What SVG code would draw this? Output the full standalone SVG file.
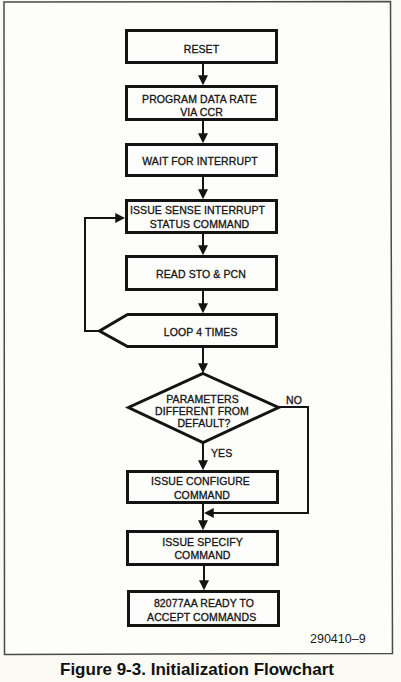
<svg xmlns="http://www.w3.org/2000/svg" width="401" height="682" viewBox="0 0 401 682">
<defs>
<style>
.box{fill:#fdfdfb;stroke:#141414;stroke-width:3;stroke-linejoin:miter}
.lbl{font-family:"Liberation Sans",Arial,sans-serif;font-size:10.5px;fill:#141414;stroke:#141414;stroke-width:0.3px;text-anchor:middle;letter-spacing:0.1px}
.lbs{font-family:"Liberation Sans",Arial,sans-serif;font-size:10.5px;fill:#141414;stroke:#141414;stroke-width:0.3px;letter-spacing:0.1px}
.con{fill:none;stroke:#141414;stroke-width:2}
</style>
<marker id="ah" markerUnits="userSpaceOnUse" markerWidth="10" markerHeight="10" viewBox="0 0 9 9" refX="7" refY="4.5" orient="auto">
<path d="M0,0 L9,4.5 L0,9 z" fill="#141414"/>
</marker>
</defs>
<rect x="0" y="0" width="401" height="682" fill="#fbfaf5"/>
<path d="M4,2 L390.5,1.5 L392.5,653.5 L4.5,654.5 z" fill="#fdfdfa" stroke="#4a4a4a" stroke-width="1.5"/>

<g id="connectors">
<path class="con" d="M203,64 V83" marker-end="url(#ah)"/>
<path class="con" d="M203,121 V141" marker-end="url(#ah)"/>
<path class="con" d="M203,177 V197" marker-end="url(#ah)"/>
<path class="con" d="M203,234 V253" marker-end="url(#ah)"/>
<path class="con" d="M203,291 V311" marker-end="url(#ah)"/>
<path class="con" d="M99,331 H85 V218 H123" marker-end="url(#ah)"/>
<path class="con" d="M203,348 V371" marker-end="url(#ah)"/>
<path class="con" d="M203,443 V468" marker-end="url(#ah)"/>
<path class="con" d="M278,407 H308 V513 H206" marker-end="url(#ah)"/>
<path class="con" d="M203,504 V528" marker-end="url(#ah)"/>
<path class="con" d="M204,566 V588" marker-end="url(#ah)"/>
</g>

<g id="reset">
<rect class="box" x="126.5" y="30.5" width="150" height="32"/>
<text class="lbl" x="201.5" y="52.5">RESET</text>
</g>
<g id="program">
<rect class="box" x="126.5" y="86.5" width="150" height="33"/>
<text class="lbl" x="199.5" y="102.5">PROGRAM DATA RATE</text>
<text class="lbl" x="201.5" y="115.7">VIA CCR</text>
</g>
<g id="wait">
<rect class="box" x="126.5" y="144.5" width="150" height="31"/>
<text class="lbl" x="200" y="165">WAIT FOR INTERRUPT</text>
</g>
<g id="sense">
<rect class="box" x="126.5" y="200.5" width="150" height="32"/>
<text class="lbl" x="197.5" y="214">ISSUE SENSE INTERRUPT</text>
<text class="lbl" x="199.5" y="227.5">STATUS COMMAND</text>
</g>
<g id="read">
<rect class="box" x="126.5" y="256.5" width="150" height="33"/>
<text class="lbl" x="201" y="277.7">READ STO &amp; PCN</text>
</g>
<g id="loop">
<path class="box" d="M127.5,314.5 H276.5 V346.5 H127.5 L99.5,331 z"/>
<text class="lbl" x="200.7" y="336">LOOP 4 TIMES</text>
</g>
<g id="decision">
<path class="box" d="M203,373.5 L278.5,407.5 L203,442.5 L128.5,407.5 z"/>
<text class="lbl" x="202.5" y="402.7">PARAMETERS</text>
<text class="lbl" x="202" y="415">DIFFERENT FROM</text>
<text class="lbl" x="204" y="427.3">DEFAULT?</text>
<text class="lbs" x="286" y="404">NO</text>
<text class="lbs" x="211" y="457">YES</text>
</g>
<g id="configure">
<rect class="box" x="127.5" y="471.5" width="150" height="31"/>
<text class="lbl" x="200.5" y="485">ISSUE CONFIGURE</text>
<text class="lbl" x="202" y="499">COMMAND</text>
</g>
<g id="specify">
<rect class="box" x="127.5" y="531.5" width="150" height="33"/>
<text class="lbl" x="202.5" y="545.7">ISSUE SPECIFY</text>
<text class="lbl" x="202.5" y="559.3">COMMAND</text>
</g>
<g id="ready">
<rect class="box" x="128.5" y="591.5" width="150" height="34"/>
<text class="lbl" x="204" y="606.7">82077AA READY TO</text>
<text class="lbl" x="201.7" y="620.7">ACCEPT COMMANDS</text>
</g>

<text x="310" y="643" font-family="'Liberation Sans',Arial,sans-serif" font-size="12.5" fill="#1a1a1a">290410–9</text>
<text x="60" y="675" font-family="'Liberation Sans',Arial,sans-serif" font-size="17" font-weight="bold" fill="#111">Figure 9-3. Initialization Flowchart</text>
</svg>
